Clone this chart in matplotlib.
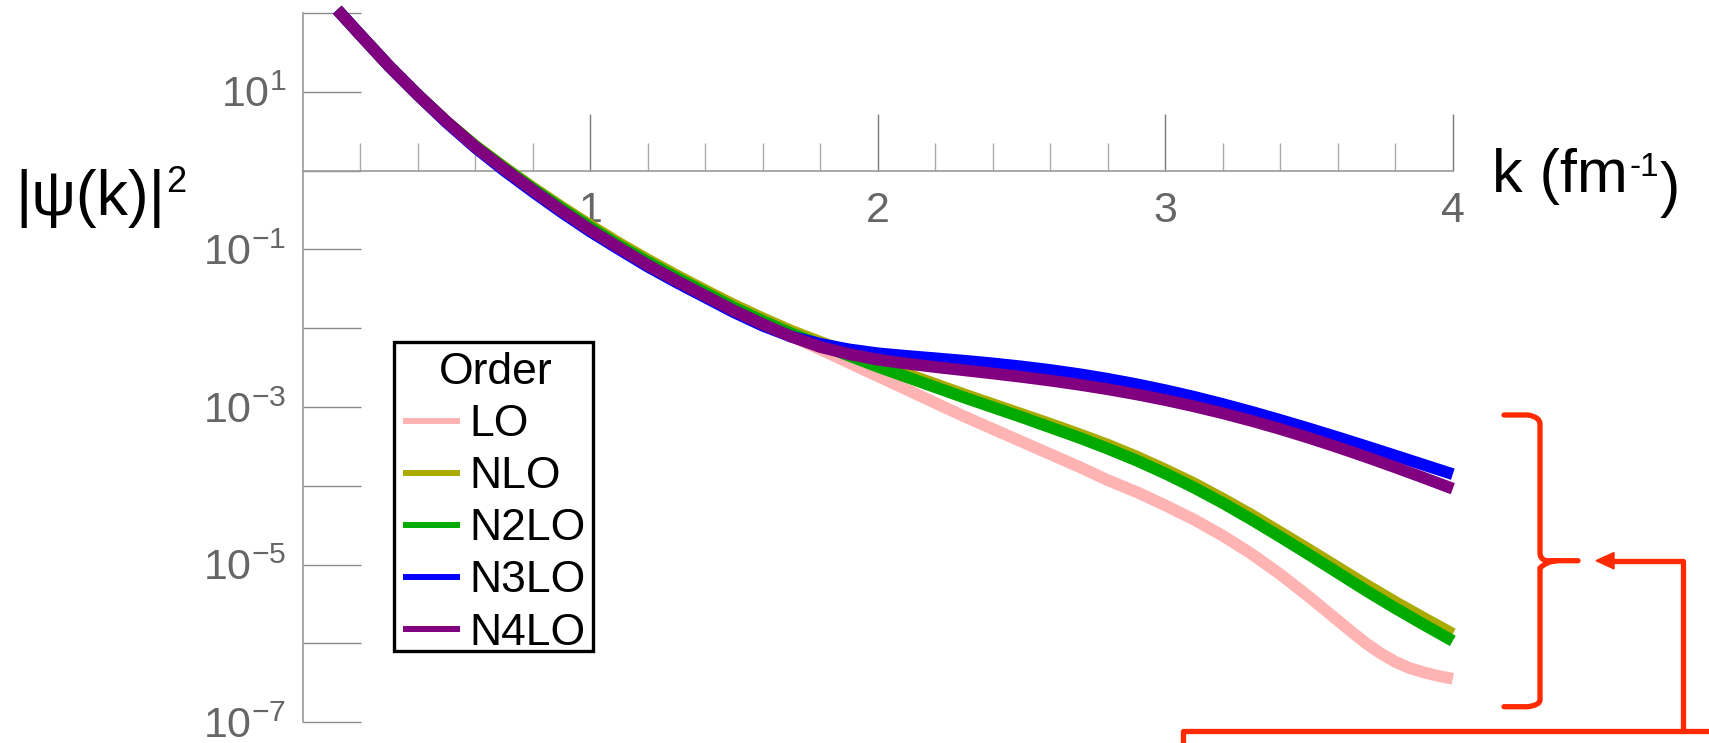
import numpy as np
import matplotlib
matplotlib.use("Agg")
import matplotlib.pyplot as plt
from matplotlib.ticker import FixedLocator, FuncFormatter, NullLocator
from matplotlib.lines import Line2D
from matplotlib.path import Path
from matplotlib.patches import PathPatch, Polygon, Rectangle

plt.rcParams['font.family'] = ['Liberation Sans', 'DejaVu Sans']
plt.rcParams['mathtext.fontset'] = 'custom'
plt.rcParams['mathtext.rm'] = 'Liberation Sans'
plt.rcParams['mathtext.it'] = 'Liberation Sans:italic'
plt.rcParams['mathtext.bf'] = 'Liberation Sans:bold'

# ---- data (log10 of |psi(k)|^2) ----
k = [0.12, 0.2, 0.3, 0.4, 0.5, 0.6, 0.7, 0.8, 0.9, 1.0,
     1.1, 1.2, 1.3, 1.4, 1.5, 1.6, 1.7, 1.8, 1.9, 2.0,
     2.1, 2.2, 2.3, 2.4, 2.5, 2.6, 2.7, 2.8, 2.9, 3.0,
     3.1, 3.2, 3.3, 3.4, 3.5, 3.6, 3.7, 3.8, 3.9, 4.0]
lo_k = [0.12, 0.2, 0.3, 0.4, 0.5, 0.6, 0.7, 0.8, 0.9, 1.0,
        1.1, 1.2, 1.3, 1.4, 1.5, 1.6, 1.7, 1.8, 1.9, 2.0,
        2.1, 2.2, 2.3, 2.4, 2.5, 2.6, 2.7, 2.8, 2.9, 3.0,
        3.1, 3.2, 3.3, 3.4, 3.5, 3.6, 3.65, 3.7, 3.75, 3.8,
        3.85, 3.9, 3.95, 4.0]
lo_log10 = [2.04, 1.72, 1.325, 0.96, 0.62, 0.31, 0.03, -0.235, -0.49, -0.73,
            -0.96, -1.17, -1.37, -1.56, -1.75, -1.93, -2.10, -2.27, -2.44, -2.61,
            -2.78, -2.95, -3.12, -3.28, -3.44, -3.60, -3.76, -3.93, -4.08, -4.25,
            -4.43, -4.635, -4.865, -5.125, -5.41, -5.71, -5.86, -6.005, -6.13, -6.235,
            -6.315, -6.37, -6.415, -6.45]
nlo_log10 = [2.04, 1.72, 1.325, 0.96, 0.62, 0.315, 0.045, -0.215, -0.46, -0.695,
             -0.92, -1.13, -1.33, -1.52, -1.705, -1.875, -2.035, -2.175, -2.31, -2.45,
             -2.58, -2.71, -2.84, -2.965, -3.09, -3.215, -3.345, -3.48, -3.63, -3.795,
             -3.97, -4.165, -4.37, -4.59, -4.81, -5.035, -5.26, -5.475, -5.68, -5.88]
n2lo_log10 = [2.04, 1.72, 1.325, 0.96, 0.62, 0.31, 0.035, -0.23, -0.48, -0.72,
              -0.95, -1.16, -1.36, -1.55, -1.74, -1.91, -2.07, -2.21, -2.35, -2.49,
              -2.62, -2.75, -2.88, -3.005, -3.13, -3.26, -3.39, -3.53, -3.68, -3.845,
              -4.025, -4.22, -4.43, -4.65, -4.875, -5.105, -5.335, -5.555, -5.765, -5.97]
n3lo_log10 = [2.04, 1.72, 1.325, 0.96, 0.61, 0.29, 0.0, -0.27, -0.53, -0.775,
              -1.00, -1.22, -1.42, -1.61, -1.80, -1.97, -2.11, -2.20, -2.27, -2.32,
              -2.353, -2.383, -2.414, -2.448, -2.487, -2.532, -2.584, -2.644, -2.712, -2.788,
              -2.872, -2.964, -3.062, -3.166, -3.274, -3.386, -3.501, -3.618, -3.736, -3.854]
n4lo_log10 = [2.04, 1.72, 1.325, 0.96, 0.62, 0.30, 0.02, -0.25, -0.51, -0.755,
              -0.98, -1.20, -1.40, -1.59, -1.78, -1.95, -2.11, -2.24, -2.33, -2.40,
              -2.45, -2.494, -2.535, -2.576, -2.619, -2.666, -2.718, -2.776, -2.841, -2.913,
              -2.993, -3.081, -3.177, -3.281, -3.393, -3.512, -3.637, -3.767, -3.901, -4.038]

orders = ["LO", "NLO", "N2LO", "N3LO", "N4LO"]
series_k = [lo_k, k, k, k, k]
series = [lo_log10, nlo_log10, n2lo_log10, n3lo_log10, n4lo_log10]
colors = ["#ffb3b3", "#aaaa00", "#00aa00", "#0000ff", "#800080"]

x_major = [1, 2, 3, 4]
x_minor = [0.2, 0.4, 0.6, 0.8, 1.2, 1.4, 1.6, 1.8, 2.2, 2.4, 2.6, 2.8,
           3.2, 3.4, 3.6, 3.8]
y_exponents = [-7, -6, -5, -4, -3, -2, -1, 0, 1, 2]

W, H = 1709, 743
fig = plt.figure(figsize=(W / 100, H / 100), dpi=100)


def fx(px):
    return px / W


def fy(py):
    return 1 - py / H


ax = fig.add_axes([fx(302.8), fy(722.1), fx(1452.8) - fx(302.8), fy(12.9) - fy(722.1)])
ax.set_yscale('log')
ax.set_xlim(0, 4)
ax.set_ylim(1e-7, 1e2)

for kk, vals, c, name in zip(series_k, series, colors, orders):
    ax.plot(kk, 10 ** np.array(vals), color=c, lw=8.5, solid_capstyle='butt',
            solid_joinstyle='round', zorder=3, clip_on=False, label=name)

axis_col = '#9a9a9a'
for s in ['top', 'right']:
    ax.spines[s].set_visible(False)
ax.spines['bottom'].set_position(('data', 1))
ax.spines['bottom'].set_color(axis_col)
ax.spines['left'].set_color(axis_col)
ax.spines['bottom'].set_linewidth(1.2)
ax.spines['left'].set_linewidth(1.2)

ax.xaxis.set_major_locator(FixedLocator(x_major))
ax.xaxis.set_minor_locator(FixedLocator(x_minor))
ax.xaxis.set_major_formatter(FuncFormatter(lambda v, p: f"{v:g}"))
ax.tick_params(axis='x', which='major', direction='in', length=41, width=1.0,
               color='#7a7a7a', labelsize=31, labelcolor='#666666', pad=15)
ax.tick_params(axis='x', which='minor', direction='in', length=20, width=1.0,
               color='#ababab')

ax.yaxis.set_major_locator(FixedLocator([10.0 ** e for e in y_exponents]))
ax.yaxis.set_minor_locator(NullLocator())


def yfmt(v, p):
    e = int(round(np.log10(v)))
    if e % 2 == 0:
        return ''
    return r'$\mathregular{10^{%d}}$' % e if e >= 0 else r'$\mathregular{10^{-%d}}$' % (-e)


ax.yaxis.set_major_formatter(FuncFormatter(yfmt))
ax.tick_params(axis='y', which='major', direction='in', length=42, width=1.0,
               color='#8a8a8a', labelsize=31, labelcolor='#666666', pad=12)

# legend (content without frame; frame drawn as a box around it)
handles = [Line2D([], [], color=c, lw=4.3) for c in colors]
leg = ax.legend(handles, orders, title='Order', loc='upper left',
                bbox_to_anchor=(fx(406), fy(352)), bbox_transform=fig.transFigure,
                frameon=False, fontsize=32, title_fontsize=32, borderpad=0,
                labelspacing=0.25, handlelength=1.15, handletextpad=0.28,
                borderaxespad=0)
leg.set_zorder(6)
ax.add_patch(Rectangle((fx(394), fy(651)), fx(593) - fx(394), fy(342) - fy(651),
                       transform=fig.transFigure, facecolor='white',
                       edgecolor='black', lw=2.4, zorder=5, clip_on=False))

# axis labels
t1 = fig.text(fx(15), fy(215), '|ψ(k)|', fontsize=45, color='black', va='baseline', ha='left')
ax.annotate('2', xy=(1.0, 0.0), xycoords=t1, xytext=(0.5, 26), textcoords='offset points',
            fontsize=26, va='baseline', ha='left', color='black', annotation_clip=False)

t2 = fig.text(fx(1492), fy(192), 'k (fm', fontsize=44, color='black', va='baseline', ha='left')
t3 = ax.annotate('-1', xy=(1.0, 0.0), xycoords=t2, xytext=(1, 21), textcoords='offset points',
                 fontsize=24, va='baseline', ha='left', color='black', annotation_clip=False)
ax.annotate(')', xy=(1.0, 0.0), xycoords=(t3, t2), xytext=(1, 0), textcoords='offset points',
            fontsize=44, va='baseline', ha='left', color='black', annotation_clip=False)

# red brace + arrow decoration (figure pixel coordinates)
red = '#ff2a00'
P = lambda x, y: (fx(x), fy(y))
verts = [P(1504, 415), P(1528, 415), P(1540, 417), P(1540, 424),
         P(1540, 553),
         P(1540, 559), P(1546, 560.7), P(1556, 560.7),
         P(1578, 560.7),
         P(1556, 560.7), P(1546, 562), P(1540, 568),
         P(1540, 700),
         P(1540, 705), P(1528, 706.7), P(1504, 706.7)]
codes = [Path.MOVETO, Path.LINETO, Path.CURVE3, Path.CURVE3,
         Path.LINETO,
         Path.CURVE3, Path.CURVE3, Path.LINETO,
         Path.LINETO,
         Path.MOVETO, Path.CURVE3, Path.CURVE3,
         Path.LINETO,
         Path.CURVE3, Path.CURVE3, Path.LINETO]
fig.patches.append(PathPatch(Path(verts, codes), transform=fig.transFigure,
                             fill=False, edgecolor=red, lw=3.8, capstyle='round',
                             joinstyle='round'))
conn = [P(1183, 760), P(1183, 731), P(1720, 731)]
fig.lines.append(Line2D([p[0] for p in conn], [p[1] for p in conn],
                        transform=fig.transFigure, color=red, lw=3.8,
                        solid_joinstyle='round', solid_capstyle='round'))
arr = [P(1683, 731), P(1683, 560.7), P(1610, 560.7)]
fig.lines.append(Line2D([p[0] for p in arr], [p[1] for p in arr],
                        transform=fig.transFigure, color=red, lw=3.8,
                        solid_joinstyle='round', solid_capstyle='round'))
fig.patches.append(Polygon([P(1596, 560.7), P(1614, 552.5), P(1614, 568.9)],
                           closed=True, transform=fig.transFigure,
                           facecolor=red, edgecolor=red, lw=1))

fig.savefig('out.png', dpi=100)
